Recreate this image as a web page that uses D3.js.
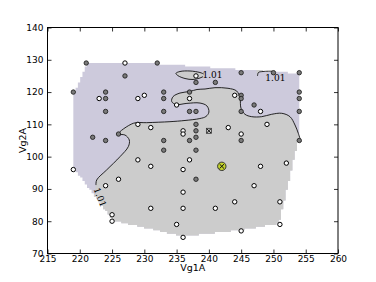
<!DOCTYPE html>
<html>
<head>
<meta charset="utf-8">
<script src="https://cdn.jsdelivr.net/npm/d3@7"></script>
<style>
  body { margin: 0; background: #fff; }
  svg { display: block; }
  .tick text { font-family: "DejaVu Sans", sans-serif; font-size: 9px; fill: #000; }
</style>
</head>
<body>
<div id="chart"></div>
<script>
"use strict";

// tick labels
var xTicks = [215, 220, 225, 230, 235, 240, 245, 250, 255, 260];
var yTicks = [70, 80, 90, 100, 110, 120, 130, 140];

// measured points (white = below level, dark = above level)
var whitePts = [[227,129],[223,118],[229,118],[230,119],[235,116],[237,118],[229,110],[231,109],
    [236,108],[236,107],[238,125],[244,119],[248,114],[243,109],[249,110],[245,107],[229,99],
    [231,97],[237,99],[236,96],[219,96],[224,91],[226,93],[236,89],[231,84],[236,84],[225,82],
    [225,80],[235,79],[236,75],[248,97],[252,98],[247,91],[244,86],[251,86],[241,84],[251,79],[245,77]];
var darkPts = [[221,129],[232,129],[227,125],[219,120],[224,120],[224,118],[233,120],[233,118],
    [224,114],[233,114],[237,120],[226,107],[222,106],[238,123],[241,123],[245,126],[250,126],
    [254,126],[245,119],[245,118],[247,116],[254,120],[254,118],[237,114],[238,114],[245,114],
    [254,114],[238,110],[238,108],[238,106],[254,105],[224,105],[233,105],[237,105],[245,105],
    [233,102],[238,102],[238,93]];
var bestPoint = [242, 97];
var crossPoint = [240, 108];

// contour level 1.01
var contourMain = [[222.51,91.2],[222.62,92.77],[224.17,95.9],[226.23,99.99],[227.52,103.1],
    [227.67,105.16],[227.0,106.7],[225.97,107.0],[228.29,110.33],[230.37,110.52],[233.97,110.83],
    [236.3,111.2],[238.6,111.8],[239.55,112.44],[240.0,113.8],[239.7,115.7],[238.62,116.6],
    [236.6,116.5],[234.9,116.15],[234.24,117.08],[234.44,118.57],[235.52,119.7],[237.07,120.2],
    [238.16,120.8],[239.4,120.95],[240.94,121.36],[242.96,121.17],[244.3,120.33],[244.82,118.07],
    [244.97,115.0],[245.59,113.12],[246.63,112.38],[248.18,112.38],[249.73,113.12],[251.28,113.43],
    [252.56,112.38],[253.34,109.8],[253.85,107.23],[254.27,104.6]];
var islandA = [[239.2,125.6],[238.62,126.06],[237.07,126.53],[235.52,126.37],[234.9,125.8],
    [235.2,125.1],[236.3,124.2],[237.54,123.9],[238.62,124.36],[239.1,124.8]];
var islandB = [[247.53,124.98],[247.68,126.06],[248.38,126.37],[249.77,126.47]];
var levelLabels = ["1.01", "1.01", "1.01"];
var labelPos = [[240.55,125.2],[250.3,124.5],[223.14,87.45]];

var width = 376, height = 282;
var margin = {left: 47.5, right: 38, top: 27.5, bottom: 28.5};

var svg = d3.select("#chart").append("svg").attr("width", width).attr("height", height);

var x = d3.scaleLinear().domain([215, 260]).range([margin.left, width - margin.right]);
var y = d3.scaleLinear().domain([70, 140]).range([height - margin.bottom, margin.top]);

// stepped convex hull (interpolation grid masked outside the hull)
var allPts = whitePts.concat(darkPts, [bestPoint, crossPoint]);
var hull = d3.polygonHull(allPts);
var c = d3.polygonCentroid(hull);
var hullBig = hull.map(function(p) { return [c[0] + (p[0] - c[0]) * 1.002, c[1] + (p[1] - c[1]) * 1.002]; });
var xmin = d3.min(allPts, function(d) { return d[0]; }), xmax = d3.max(allPts, function(d) { return d[0]; });
var ymin = d3.min(allPts, function(d) { return d[1]; }), ymax = d3.max(allPts, function(d) { return d[1]; });
var nx = 100, ny = 100;
var gx = d3.range(nx).map(function(i) { return xmin + i * (xmax - xmin) / (nx - 1); });
var gy = d3.range(ny).map(function(j) { return ymin + j * (ymax - ymin) / (ny - 1); });
function inside(i, j) { return d3.polygonContains(hullBig, [gx[i], gy[j]]); }

// one outline polygon: down the left steps, back up the right steps
var leftSide = [], rightSide = [];
for (var j = ny - 2; j >= 0; j--) {
    var i0 = -1, i1 = -1;
    for (var i = 0; i < nx - 1; i++) {
        if (inside(i, j) && inside(i + 1, j) && inside(i, j + 1) && inside(i + 1, j + 1)) {
            if (i0 < 0) i0 = i;
            i1 = i;
        }
    }
    if (i0 < 0) continue;
    leftSide.push([gx[i0], gy[j + 1]], [gx[i0], gy[j]]);
    rightSide.push([gx[i1 + 1], gy[j + 1]], [gx[i1 + 1], gy[j]]);
}
var outline = leftSide.concat(rightSide.reverse());

var straight = d3.line().x(function(d) { return x(d[0]); }).y(function(d) { return y(d[1]); });
var curve = d3.line().x(function(d) { return x(d[0]); }).y(function(d) { return y(d[1]); })
    .curve(d3.curveCatmullRom.alpha(0.5));

svg.append("defs").append("clipPath").attr("id", "hullClip")
    .append("path").attr("d", straight(outline) + "Z");

var fill = svg.append("g").attr("clip-path", "url(#hullClip)");
fill.append("rect")
    .attr("x", x(215)).attr("y", y(140))
    .attr("width", x(260) - x(215)).attr("height", y(70) - y(140))
    .attr("fill", "#cdcadc");

// gray area below the level
var grayPath = curve([[222.2,87.2]].concat(contourMain, [[255.5,104.2]]))
    + straight([[258,100],[260,70],[215,70],[219,84]]).replace("M", "L") + "Z";
fill.append("path").attr("d", grayPath).attr("fill", "#cccccc");
fill.append("path").attr("d", d3.line().x(function(d) { return x(d[0]); }).y(function(d) { return y(d[1]); })
    .curve(d3.curveCatmullRomClosed)(islandA)).attr("fill", "#cccccc");
fill.append("path").attr("d", curve(islandB) + straight([[251,128],[247.2,128]]).replace("M", "L") + "Z")
    .attr("fill", "#cccccc");

// contour lines
[contourMain, islandA, islandB].forEach(function(line) {
    svg.append("path").attr("d", curve(line))
        .attr("fill", "none").attr("stroke", "#111").attr("stroke-width", 0.9);
});

levelLabels.forEach(function(t, k) {
    var p = labelPos[k];
    svg.append("text")
        .attr("transform", "translate(" + x(p[0]) + "," + y(p[1]) + ") rotate(" + (k == 2 ? 69 : 0) + ")")
        .attr("text-anchor", "middle").attr("dy", "0.35em")
        .style("font-family", "'DejaVu Serif', 'Liberation Serif', serif").style("font-size", "9px")
        .text(t);
});

// points
svg.append("g").selectAll("circle").data(darkPts).enter().append("circle")
    .attr("cx", function(d) { return x(d[0]); }).attr("cy", function(d) { return y(d[1]); })
    .attr("r", 2.2).attr("fill", "#7a7a7a").attr("stroke", "#222").attr("stroke-width", 0.9);
svg.append("g").selectAll("circle").data(whitePts).enter().append("circle")
    .attr("cx", function(d) { return x(d[0]); }).attr("cy", function(d) { return y(d[1]); })
    .attr("r", 2.2).attr("fill", "#fff").attr("stroke", "#000").attr("stroke-width", 1);

svg.append("circle").attr("cx", x(bestPoint[0])).attr("cy", y(bestPoint[1])).attr("r", 4.2)
    .attr("fill", "#c2d22c").attr("stroke", "#333").attr("stroke-width", 1);
[bestPoint, crossPoint].forEach(function(p) {
    var px = x(p[0]), py = y(p[1]), s = 2.2;
    svg.append("path").attr("d", "M" + (px - s) + "," + (py - s) + "L" + (px + s) + "," + (py + s)
        + "M" + (px - s) + "," + (py + s) + "L" + (px + s) + "," + (py - s))
        .attr("stroke", "#111").attr("stroke-width", 1);
});
svg.append("rect").attr("x", x(crossPoint[0]) - 2.5).attr("y", y(crossPoint[1]) - 2.5)
    .attr("width", 5).attr("height", 5).attr("fill", "none").attr("stroke", "#333").attr("stroke-width", 0.8);

// axes, inward ticks on all four sides
var W = width - margin.right, H = height - margin.bottom;
svg.append("g").attr("class", "tick").attr("transform", "translate(0," + H + ")")
    .call(d3.axisBottom(x).tickValues(xTicks).tickSize(-4).tickPadding(2.5).tickFormat(d3.format("d")));
svg.append("g").attr("class", "tick").attr("transform", "translate(" + margin.left + ",0)")
    .call(d3.axisLeft(y).tickValues(yTicks).tickSize(-4).tickPadding(4).tickFormat(d3.format("d")));
svg.append("g").attr("transform", "translate(0," + margin.top + ")")
    .call(d3.axisTop(x).tickValues(xTicks).tickSize(-4).tickFormat(""));
svg.append("g").attr("transform", "translate(" + W + ",0)")
    .call(d3.axisRight(y).tickValues(yTicks).tickSize(-4).tickFormat(""));
svg.selectAll(".domain").remove();
svg.selectAll(".tick line").attr("stroke", "#000").attr("stroke-width", 0.8);
svg.append("rect").attr("x", margin.left).attr("y", margin.top)
    .attr("width", W - margin.left).attr("height", H - margin.top)
    .attr("fill", "none").attr("stroke", "#000").attr("stroke-width", 1);

svg.append("text").attr("x", (margin.left + W) / 2).attr("y", 270.5)
    .attr("text-anchor", "middle").style("font-family", "'DejaVu Sans', sans-serif").style("font-size", "9.5px")
    .text("Vg1A");
svg.append("text").attr("transform", "translate(26," + ((margin.top + H) / 2) + ") rotate(-90)")
    .attr("text-anchor", "middle").style("font-family", "'DejaVu Sans', sans-serif").style("font-size", "9.5px")
    .text("Vg2A");
</script>
</body>
</html>
